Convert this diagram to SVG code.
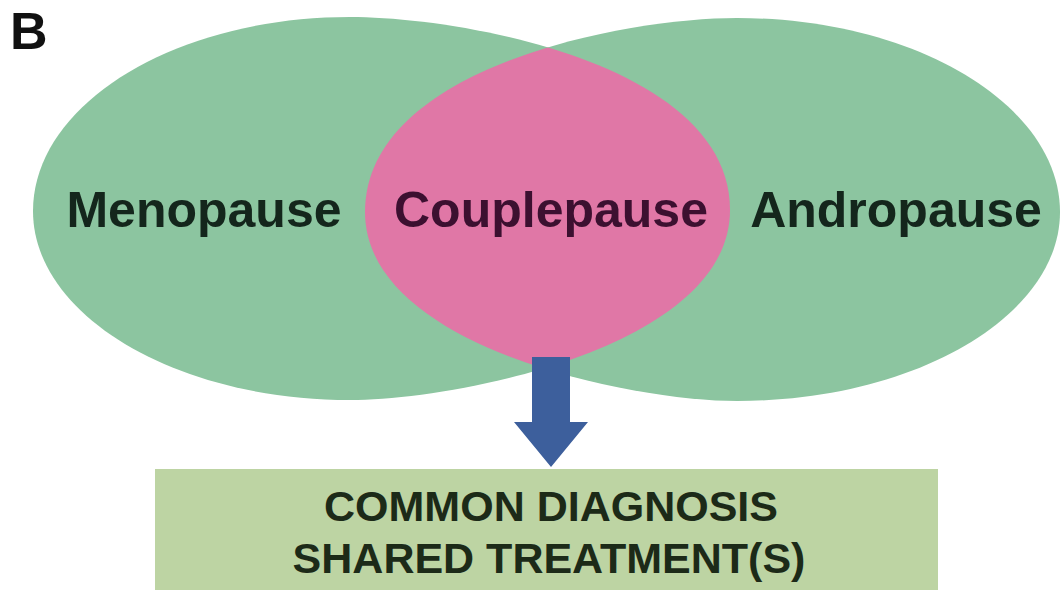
<svg xmlns="http://www.w3.org/2000/svg" xmlns:xlink="http://www.w3.org/1999/xlink" width="1063" height="590" viewBox="0 0 1063 590">
  <style>
    .lbl { font-family: "Liberation Sans", Arial, sans-serif; font-weight: bold; font-size: 50px; text-anchor: middle; }
    .green { fill: #8cc5a0; }
    .pink { fill: #e077a6; }
    .dark { fill: #14261c; }
    .maroon { fill: #3c1030; }
    .box { fill: #bdd4a3; }
    .boxtxt { font-family: "Liberation Sans", Arial, sans-serif; font-weight: bold; font-size: 43px; text-anchor: middle; fill: #1c2a18; }
    .arrow { fill: #3d5f9c; }
  </style>
  <defs>
    <path id="leftShape" d="M33,211 C33,104 175,17 350,17 C464,17 730,65 730,210 C730,347 456,400 350,400 C175,400 33,315 33,211 Z"/>
    <path id="rightShape" d="M1060,212 C1060,105 915,18 737,18 C625,18 365,67 365,212 C365,348 633,401 737,401 C915,401 1060,316 1060,212 Z"/>
    <clipPath id="clipLeft">
      <use xlink:href="#leftShape" href="#leftShape"/>
    </clipPath>
  </defs>
  <rect x="0" y="0" width="1063" height="590" fill="#ffffff"/>
  <text x="10" y="49" font-family="'Liberation Sans', Arial, sans-serif" font-weight="bold" font-size="52" fill="#111111">B</text>
  <g id="node-menopause">
    <use xlink:href="#leftShape" href="#leftShape" class="green"/>
  </g>
  <g id="node-andropause">
    <use xlink:href="#rightShape" href="#rightShape" class="green"/>
  </g>
  <g id="node-couplepause">
    <use xlink:href="#rightShape" href="#rightShape" class="pink" clip-path="url(#clipLeft)"/>
  </g>
  <g id="labels">
    <text class="lbl dark" x="204" y="227">Menopause</text>
    <text class="lbl maroon" x="551" y="227">Couplepause</text>
    <text class="lbl dark" x="896" y="227">Andropause</text>
  </g>
  <g id="node-outcome">
    <rect class="box" x="155" y="469" width="783" height="130"/>
    <text class="boxtxt" x="551" y="521">COMMON DIAGNOSIS</text>
    <text class="boxtxt" x="549" y="573">SHARED TREATMENT(S)</text>
  </g>
  <g id="connectors">
    <polygon class="arrow" points="532,357 570,357 570,422 588,422 551,467 514,422 532,422"/>
  </g>
</svg>
